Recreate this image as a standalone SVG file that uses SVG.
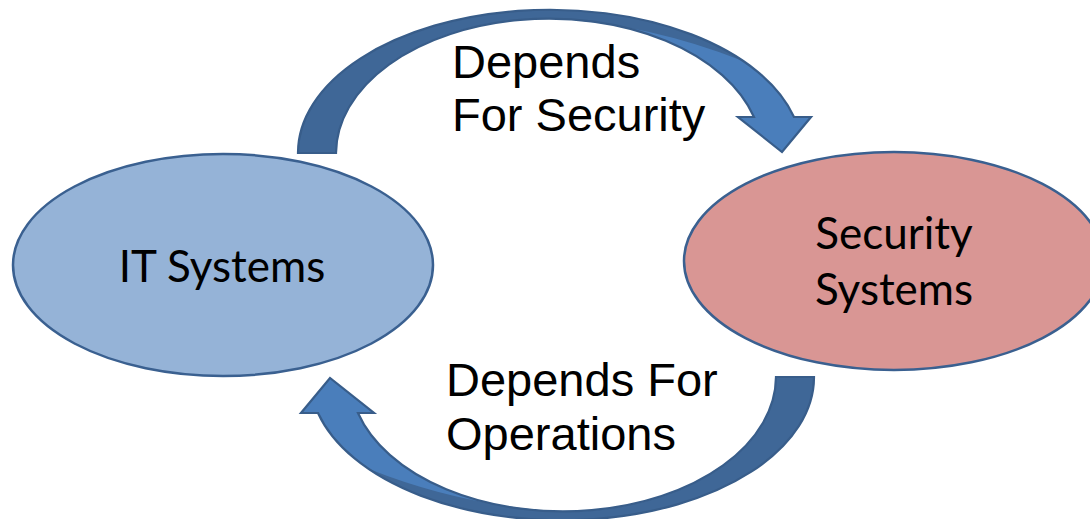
<svg xmlns="http://www.w3.org/2000/svg" width="1090" height="519" viewBox="0 0 1090 519">
  <style>
    .lbl { font-family: "Liberation Sans", Arial, sans-serif; font-size: 47px; fill: #000; }
    .node-text { font-family: Lato, "Open Sans", sans-serif; font-size: 44px; fill: #000; text-anchor: middle; }
    .arrow-light { fill: #4a7ebb; }
    .arrow-dark { fill: #3f6797; }
    .arrow-outline { fill: none; stroke: #385d8a; stroke-width: 2.2; stroke-linejoin: miter; }
    .node-shape { stroke: #3a6090; stroke-width: 2.5; }
  </style>
  <defs>
    <path id="arrowShape" d="M298,153 A252,143 0 0 1 794,117 L811,117 L782,152 L738,117 L754,117 A213,135 0 0 0 336,153 Z"/>
    <path id="arrowBack" d="M298,153 A252,143 0 0 1 743,61 Q650,24 549,18 A213,135 0 0 0 336,153 Z"/>
  </defs>
  <rect width="1090" height="519" fill="#ffffff"/>

  <g id="connectors">
    <g id="arrow-depends-for-security">
      <use href="#arrowShape" class="arrow-light"/>
      <use href="#arrowBack" class="arrow-dark"/>
      <use href="#arrowShape" class="arrow-outline"/>
    </g>
    <g id="arrow-depends-for-operations" transform="rotate(180 556 265)">
      <use href="#arrowShape" class="arrow-light"/>
      <use href="#arrowBack" class="arrow-dark"/>
      <use href="#arrowShape" class="arrow-outline"/>
    </g>
    <g id="label-security">
      <text class="lbl" x="452" y="78">Depends</text>
      <text class="lbl" x="452" y="131">For Security</text>
    </g>
    <g id="label-operations">
      <text class="lbl" x="446" y="396">Depends For</text>
      <text class="lbl" x="446" y="450">Operations</text>
    </g>
  </g>

  <g id="node-it-systems">
    <ellipse class="node-shape" cx="223" cy="265" rx="210" ry="111" fill="#95b3d7"/>
    <text class="node-text" x="222" y="282">IT Systems</text>
  </g>

  <g id="node-security-systems">
    <ellipse class="node-shape" cx="894" cy="261" rx="210" ry="109" fill="#d99694"/>
    <text class="node-text" x="894" y="249">Security</text>
    <text class="node-text" x="894" y="305">Systems</text>
  </g>
</svg>
